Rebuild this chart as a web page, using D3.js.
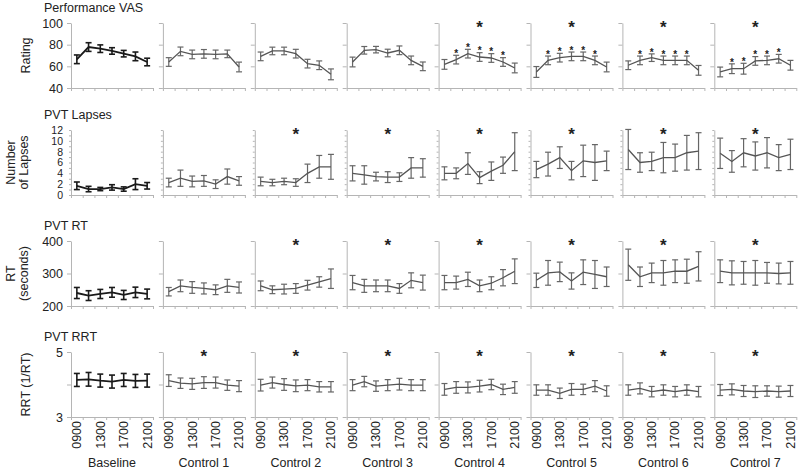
<!DOCTYPE html>
<html>
<head>
<meta charset="utf-8">
<script src="https://cdn.jsdelivr.net/npm/d3@7"></script>
<style>
  body { margin: 0; background: #fff; }
  text { font-family: 'Liberation Sans', Arial, sans-serif; fill: #222; }
</style>
</head>
<body>
<script>
const panels = ['Baseline', 'Control 1', 'Control 2', 'Control 3', 'Control 4', 'Control 5', 'Control 6', 'Control 7'];
const times = ['0900', '1100', '1300', '1500', '1700', '1900', '2100'];
const timeLabels = ['0900', '1300', '1700', '2100'];

// Performance VAS (rating)
const vasMean = [
  [66.5, 77.8, 76.3, 74.2, 71.7, 69.2, 64.0],
  [64.0, 73.8, 71.0, 71.5, 71.0, 71.5, 59.4],
  [69.2, 74.2, 74.2, 71.7, 62.5, 61.0, 52.6],
  [64.0, 74.8, 75.4, 72.3, 74.8, 65.5, 60.0],
  [61.8, 66.2, 71.7, 68.6, 67.7, 64.0, 58.5],
  [54.8, 65.5, 68.0, 69.2, 69.2, 65.5, 59.4],
  [61.0, 65.5, 68.0, 65.5, 65.5, 65.5, 56.3],
  [54.8, 57.8, 57.8, 65.0, 65.5, 67.0, 61.0]
];
const vasErr = [
  [4, 4, 3.5, 3, 3, 4, 3.5],
  [4, 4, 4, 4, 4, 3.5, 4.5],
  [4, 3.5, 3.5, 4, 4, 4, 5],
  [4.5, 3.5, 3, 3.5, 4, 4, 4],
  [4.5, 4, 4, 4, 4, 4, 4.5],
  [5, 4, 4, 4, 4, 4, 4.5],
  [4, 4, 3.5, 4, 4, 4, 4.5],
  [4.5, 4.5, 5, 4, 4, 4, 4.5]
];
const vasPanelSig = [4, 5, 6, 7];
const vasPointSig = [[], [], [], [], [1, 2, 3, 4, 5], [1, 2, 3, 4, 5], [1, 2, 3, 4, 5], [1, 2, 3, 4, 5]];

// PVT lapses
const lapseMean = [
  [1.7, 1.1, 1.1, 1.4, 1.1, 2.0, 1.7],
  [2.3, 3.1, 2.5, 2.6, 2.0, 3.4, 2.6],
  [2.5, 2.3, 2.5, 2.3, 4.0, 5.2, 5.2],
  [4.0, 3.7, 3.4, 3.3, 3.3, 5.0, 5.0],
  [4.0, 4.0, 5.8, 3.2, 4.4, 5.5, 8.0],
  [4.7, 5.7, 6.9, 4.5, 6.3, 6.0, 6.3],
  [8.4, 6.0, 6.2, 6.9, 6.9, 7.8, 8.1],
  [7.7, 6.2, 7.8, 7.2, 7.8, 6.9, 7.5]
];
const lapseErr = [
  [0.7, 0.5, 0.3, 0.5, 0.4, 1.0, 0.6],
  [0.8, 1.5, 1.0, 1.0, 0.8, 1.4, 0.8],
  [0.8, 0.6, 0.6, 0.7, 1.7, 2.1, 2.3],
  [1.4, 1.7, 0.8, 1.0, 0.8, 1.9, 1.7],
  [1.2, 1.0, 2.0, 1.1, 1.7, 1.5, 3.5],
  [1.5, 2.2, 2.0, 1.7, 2.9, 3.3, 1.8],
  [3.7, 1.8, 1.7, 2.8, 2.5, 3.2, 3.4],
  [2.8, 2.0, 2.6, 2.6, 2.8, 2.4, 2.8]
];
const lapsePanelSig = [2, 3, 4, 5, 6, 7];

// PVT RT (seconds)
const rtMean = [
  [240, 232, 237, 242, 234, 242, 237],
  [244, 262, 257, 254, 250, 262, 257],
  [262, 250, 252, 254, 264, 274, 284],
  [272, 262, 262, 262, 254, 279, 272],
  [272, 272, 282, 262, 270, 287, 307],
  [279, 302, 305, 277, 304, 297, 290],
  [327, 290, 302, 302, 307, 307, 322],
  [307, 302, 302, 302, 302, 300, 302]
];
const rtErr = [
  [17, 15, 14, 15, 14, 16, 15],
  [13, 18, 18, 17, 15, 20, 17],
  [15, 12, 15, 15, 15, 16, 30],
  [22, 20, 18, 18, 15, 23, 23],
  [22, 20, 22, 18, 20, 25, 38],
  [22, 38, 30, 25, 38, 43, 30],
  [48, 30, 30, 38, 35, 37, 45],
  [35, 37, 35, 38, 32, 32, 35]
];
const rtPanelSig = [2, 3, 4, 5, 6, 7];

// PVT RRT (1/RT)
const rrtMean = [
  [4.14, 4.16, 4.12, 4.09, 4.14, 4.11, 4.12],
  [4.12, 4.04, 4.02, 4.06, 4.06, 3.98, 3.95],
  [3.98, 4.06, 4.00, 3.96, 3.98, 3.93, 3.93],
  [3.98, 4.09, 3.95, 3.98, 4.01, 3.98, 3.98],
  [3.85, 3.91, 3.91, 3.95, 4.00, 3.85, 3.91],
  [3.83, 3.83, 3.73, 3.85, 3.85, 3.95, 3.80],
  [3.83, 3.88, 3.78, 3.83, 3.78, 3.83, 3.78],
  [3.83, 3.85, 3.80, 3.78, 3.80, 3.78, 3.80]
];
const rrtErr = [
  [0.20, 0.21, 0.20, 0.20, 0.20, 0.20, 0.20],
  [0.18, 0.16, 0.17, 0.18, 0.17, 0.16, 0.17],
  [0.18, 0.17, 0.18, 0.18, 0.17, 0.16, 0.16],
  [0.17, 0.16, 0.16, 0.17, 0.18, 0.17, 0.17],
  [0.18, 0.18, 0.17, 0.18, 0.16, 0.16, 0.18],
  [0.16, 0.16, 0.16, 0.18, 0.16, 0.17, 0.16],
  [0.16, 0.17, 0.16, 0.16, 0.16, 0.16, 0.16],
  [0.17, 0.17, 0.17, 0.18, 0.16, 0.17, 0.17]
];
const rrtPanelSig = [1, 2, 3, 4, 5, 6, 7];

const rows = [
  {title: 'Performance VAS', ylabel: ['Rating'], domain: [40, 100], ticks: [40, 60, 80, 100], labels: [40, 60, 80, 100],
   mean: vasMean, err: vasErr, sig: vasPanelSig, pointSig: vasPointSig},
  {title: 'PVT Lapses', ylabel: ['Number', 'of Lapses'], domain: [0, 12], ticks: d3.range(0, 13), labels: [0, 2, 4, 6, 8, 10, 12],
   mean: lapseMean, err: lapseErr, sig: lapsePanelSig, pointSig: null},
  {title: 'PVT RT', ylabel: ['RT', '(seconds)'], domain: [200, 400], ticks: [200, 300, 400], labels: [200, 300, 400],
   mean: rtMean, err: rtErr, sig: rtPanelSig, pointSig: null},
  {title: 'PVT RRT', ylabel: ['RRT (1/RT)'], domain: [3, 5], ticks: [3, 4, 5], labels: [3, 5],
   mean: rrtMean, err: rrtErr, sig: rrtPanelSig, pointSig: null}
];

const width = 800;
const height = 476;
const colX0 = 71;
const colStep = 91.9;
const panelW = 82;
const panelH = 65;
const rowTops = [23, 130, 241, 352];
const axisColor = '#b5b5b5';

const svg = d3.select('body')
  .append('svg')
  .attr('width', width)
  .attr('height', height);

const x = d3.scalePoint().domain(times).range([0, panelW]).padding(0.5);
const xEdge = d3.scaleLinear().domain([0, times.length]).range([0, panelW]);

let styleAxis = (g, size) => {
  g.select('.domain').attr('stroke', axisColor);
  g.selectAll('.tick line').attr('stroke', axisColor);
  g.selectAll('.tick text')
    .attr('fill', '#222')
    .attr('font-size', size || '12.5px')
    .attr('font-family', "'Liberation Sans', Arial, sans-serif");
};

rows.forEach((row, r) => {
  const top = rowTops[r];
  const y = d3.scaleLinear().domain(row.domain).range([panelH, 0]);

  svg.append('text')
    .text(row.title)
    .attr('x', 44)
    .attr('y', top - 11)
    .attr('font-size', '12.5px');

  // y axis title, rotated
  const ylabX = row.ylabel.length == 1 ? [26] : [11, 24];
  row.ylabel.forEach((s, k) => {
    svg.append('text')
      .text(s)
      .attr('font-size', '12.5px')
      .attr('text-anchor', 'middle')
      .attr('transform', `translate(${ylabX[k]}, ${top + panelH / 2}) rotate(-90)`)
      .attr('dy', '0.35em');
  });

  panels.forEach((name, p) => {
    const g = svg.append('g')
      .attr('transform', `translate(${colX0 + p * colStep}, ${top})`);
    const isBase = p == 0;
    const color = isBase ? '#1a1a1a' : '#555';
    const barColor = isBase ? '#1a1a1a' : '#666';

    g.append('g')
      .call(d3.axisLeft(y)
        .tickValues(row.ticks)
        .tickSize(r == 1 ? 2 : 4)
        .tickSizeOuter(0)
        .tickPadding(r == 1 ? 6 : 4)
        .tickFormat(d => isBase && row.labels.includes(d) ? d : ''))
      .call(styleAxis, r == 1 ? '10.5px' : '12.5px');

    g.append('g')
      .attr('transform', `translate(0, ${panelH})`)
      .call(d3.axisBottom(xEdge)
        .tickValues(d3.range(times.length + 1))
        .tickSize(3)
        .tickSizeOuter(0)
        .tickFormat(''))
      .call(styleAxis);

    const mean = row.mean[p];
    const err = row.err[p];
    const pts = times.map((t, i) => ({t: t, m: mean[i], e: err[i], i: i}));

    // error bars
    const bars = g.selectAll('g.err')
      .data(pts)
      .enter()
      .append('g')
      .attr('class', 'err')
      .attr('stroke', barColor)
      .attr('stroke-width', isBase ? 1.6 : 1.2);
    bars.append('line')
      .attr('x1', d => x(d.t)).attr('x2', d => x(d.t))
      .attr('y1', d => y(d.m - d.e)).attr('y2', d => y(d.m + d.e));
    bars.append('line')
      .attr('x1', d => x(d.t) - 3).attr('x2', d => x(d.t) + 3)
      .attr('y1', d => y(d.m + d.e)).attr('y2', d => y(d.m + d.e));
    bars.append('line')
      .attr('x1', d => x(d.t) - 3).attr('x2', d => x(d.t) + 3)
      .attr('y1', d => y(d.m - d.e)).attr('y2', d => y(d.m - d.e));

    g.append('path')
      .datum(pts)
      .attr('fill', 'none')
      .attr('stroke', color)
      .attr('stroke-width', isBase ? 1.8 : 1.3)
      .attr('d', d3.line().x(d => x(d.t)).y(d => y(d.m)));

    // per-time-point significance
    if (row.pointSig) {
      g.selectAll('text.psig')
        .data(pts.filter(d => row.pointSig[p].includes(d.i)))
        .enter()
        .append('text')
        .attr('class', 'psig')
        .text('*')
        .attr('text-anchor', 'middle')
        .attr('font-size', '10px')
        .attr('font-weight', 'bold')
        .attr('x', d => x(d.t))
        .attr('y', d => y(d.m + d.e) - 4 + 5.8);
    }

    // panel significance
    if (row.sig.includes(p)) {
      g.append('text')
        .text('*')
        .attr('text-anchor', 'middle')
        .attr('font-size', '17px')
        .attr('font-weight', 'bold')
        .attr('x', x(times[3]))
        .attr('y', 10);
    }

    if (r == rows.length - 1) {
      g.selectAll('text.time')
        .data(timeLabels)
        .enter()
        .append('text')
        .attr('class', 'time')
        .text(d => d)
        .attr('font-size', '12.5px')
        .attr('text-anchor', 'end')
        .attr('dy', '0.35em')
        .attr('transform', d => `translate(${x(d)}, ${panelH + 4}) rotate(-90)`);

      g.append('text')
        .text(name)
        .attr('font-size', '12.5px')
        .attr('text-anchor', 'middle')
        .attr('x', panelW / 2)
        .attr('y', 467 - top);
    }
  });
});
</script>
</body>
</html>
